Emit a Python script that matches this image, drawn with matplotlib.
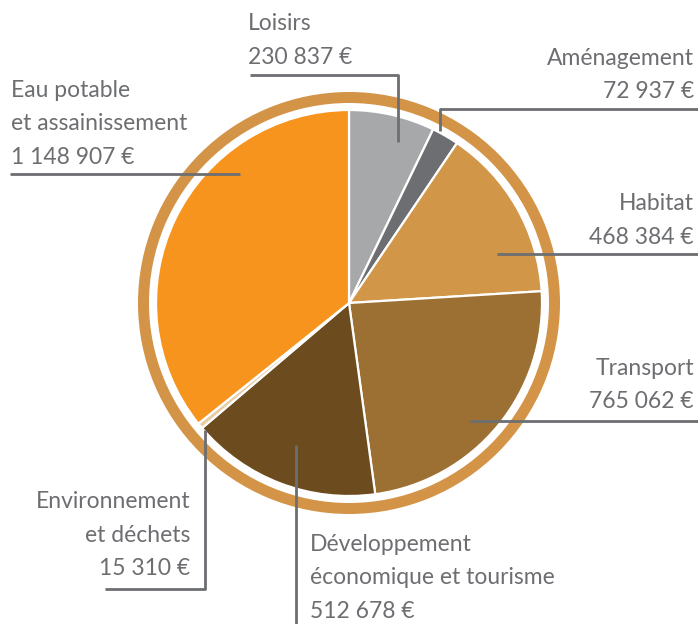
import matplotlib
matplotlib.use("Agg")
import matplotlib.pyplot as plt
from matplotlib.patches import Wedge

# data
labels = ["Loisirs", "Aménagement", "Habitat", "Transport",
          "Développement\néconomique et tourisme", "Environnement\net déchets",
          "Eau potable\net assainissement"]
values = [230837, 72937, 468384, 765062, 512678, 15310, 1148907]
amounts = ["230 837 €", "72 937 €", "468 384 €", "765 062 €",
           "512 678 €", "15 310 €", "1 148 907 €"]
colors = ["#A7A8AA", "#6D6E71", "#D19648", "#9C6F33", "#6C4C1E", "#E8CCA6", "#F7941E"]

W, H = 698, 624
grey = "#6D6E71"
ring_col = "#D39447"

fig = plt.figure(figsize=(W / 100, H / 100), dpi=100)
ax = fig.add_axes([0, 0, 1, 1])

cx, cy = 349, H - 303
ax.pie(values, colors=colors, startangle=90, counterclock=False,
       center=(cx, cy), radius=193,
       wedgeprops=dict(edgecolor="white", linewidth=1.6))
ax.add_patch(Wedge((cx, cy), 211, 0, 360, width=11, facecolor=ring_col, edgecolor="none"))

ax.set_xlim(0, W)
ax.set_ylim(0, H)
ax.set_aspect("equal")
ax.axis("off")

fs = 16.5
lh = 33.5
font = "Lato"

def label(x, y0, lines, ha):
    # y0 = pixel baseline of first line from top
    for i, s in enumerate(lines):
        ax.text(x, H - (y0 + i * lh), s, ha=ha, va="baseline",
                fontsize=fs, color=grey, family=font)

def leader(xs, ys):
    ax.plot(xs, [H - y for y in ys], color=grey, lw=2, solid_capstyle="butt")

# Loisirs
label(248, 30, [labels[0], amounts[0]], "left")
leader([250, 398, 398], [75, 75, 142])
# Aménagement
label(694, 65, [labels[1], amounts[1]], "right")
leader([698, 440, 440], [109, 109, 131])
# Habitat
label(694, 210, [labels[2], amounts[2]], "right")
leader([698, 497], [254, 254])
# Transport
label(694, 375, [labels[3], amounts[3]], "right")
leader([698, 470], [421, 421])
# Développement
label(310, 551, labels[4].split("\n") + [amounts[4]], "left")
leader([296, 296], [445, 624])
# Environnement
label(190, 508, labels[5].split("\n") + [amounts[5]], "right")
leader([105, 205, 205], [589, 589, 430])
# Eau potable
label(11, 97, labels[6].split("\n") + [amounts[6]], "left")
leader([10, 240], [174, 174])

fig.savefig("out.png", dpi=100)
